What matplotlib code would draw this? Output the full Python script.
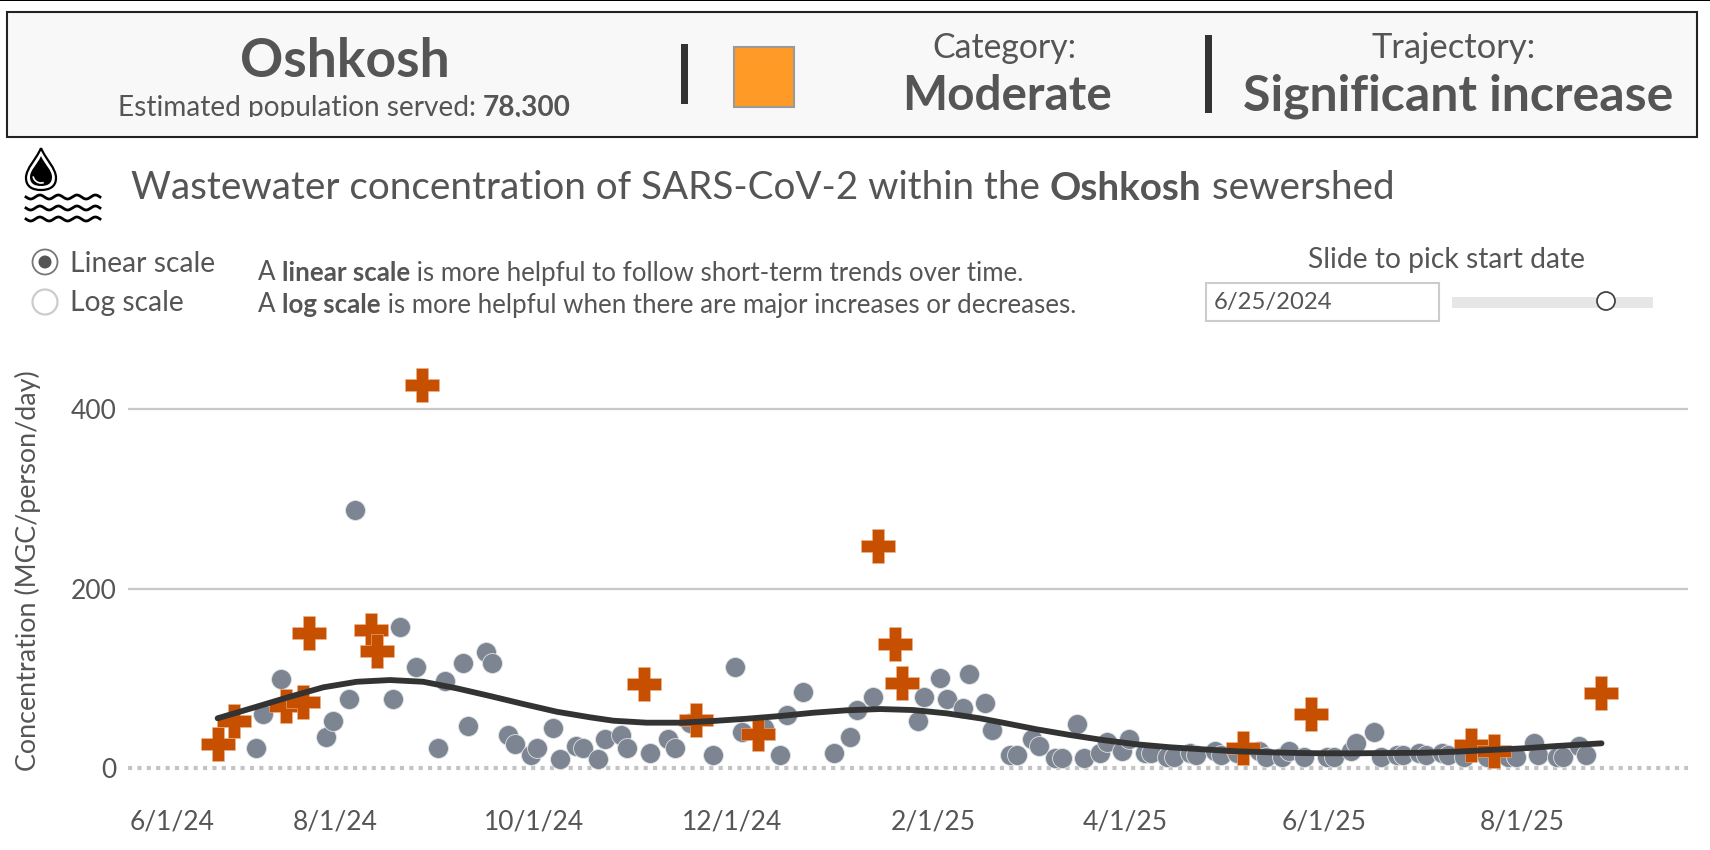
"""Oshkosh wastewater dashboard panel"""

import numpy as np
import pandas as pd
import matplotlib
matplotlib.use('Agg')
import matplotlib.pyplot as plt
from matplotlib.patches import Rectangle, Circle, PathPatch, Arc
from matplotlib.path import Path
from matplotlib.transforms import ScaledTranslation

plt.rcParams['font.family'] = ['Lato', 'DejaVu Sans']

START = pd.Timestamp('2024-06-01')

# days since 6/1/24 and MGC/person/day
dot_days = [36.7, 38.7, 44.2, 58.1, 60.2, 65.1, 67.1, 78.8, 80.9, 85.8, 92.7, 94.7, 100.3, 101.7,
            107.2, 109.3, 114.2, 116.2, 121.1, 123.1, 128, 130.1, 135, 137.1, 141.9, 143.9, 148.7,
            150.8, 157.8, 163.2, 165.4, 170.1, 177.1, 184, 186, 192.9, 197.8, 199.9, 204.7, 214.4,
            219.3, 221.4, 226.2, 240.1, 242.1, 247, 249.1, 253.9, 256, 260.8, 262.8, 268.5, 270.5,
            275.3, 277.4, 282.3, 284.4, 289.2, 291.2, 296.2, 298.2, 303, 305.2, 310, 312, 316.8,
            318.9, 323.8, 325.8, 331.5, 333.5, 338.2, 345.1, 347.2, 352, 354.3, 358.9, 366, 368,
            373.5, 374.9, 380.5, 382.5, 387.4, 389.4, 394.3, 396.4, 401.2, 403.3, 408.2, 415.1,
            421.7, 424.1, 429.7, 431, 436.6, 438.7, 443.5, 445.6]
dot_vals = [21.9, 59.8, 99.5, 34.5, 52, 77.2, 287.4, 77.2, 157.4, 112.2, 21.9, 96.9, 117.3, 46.8,
            129.6, 117.3, 36.8, 26.7, 14.5, 21.9, 44.2, 9.7, 24.5, 21.9, 9.7, 32, 36.8,
            21.9, 17, 32, 21.9, 50.1, 14.5, 112.2, 39.8, 44.2, 14.5, 59.4, 84.7, 17,
            34.5, 64.6, 79.4, 52, 79.4, 99.9, 77.2, 67.2, 104.7, 72.1, 42.3, 14.5, 14.5,
            32, 24.5, 11.5, 11.5, 49.4, 11.5, 17, 29.3, 19.3, 32, 17, 17, 11.9,
            11.9, 16.4, 14.5, 19.3, 14.5, 16.7, 19.3, 11.9, 11.9, 19.3, 11.9, 11.9, 11.9,
            19.3, 27.5, 39.8, 11.9, 14.5, 14.5, 17, 14.5, 17, 14.5, 11.9, 11.9,
            11.9, 11.9, 27.5, 14.5, 11.9, 11.9, 24.5, 14.5]

flagged_days = [24.8, 29.8, 45.8, 51, 52.9, 71.9, 73.9, 87.6, 156, 172, 191, 227.9, 233.1, 235.2,
                340.2, 361.2, 410.2, 417.2, 450.3]
flagged_vals = [26.7, 52.7, 69.1, 73.9, 150, 153.7, 130.3, 426.7, 93.6, 53.5, 37.5, 246.9, 138.1, 95,
                22.6, 60.2, 25.6, 19.3, 83.2]

trend_days = [24.8, 36.8, 47, 57.3, 67.6, 77.8, 88, 98.3, 108.6, 118.8, 129.1, 139.3, 146.5, 156.7,
              167, 177.2, 187.5, 197.7, 208, 218.2, 228.5, 238.7, 249, 259.2, 266.3, 276.7, 286.9,
              297, 307.4, 317.7, 327.8, 338.2, 348.4, 357.6, 364.7, 375, 385.3, 395.5, 405.8,
              416.1, 426.2, 436.6, 450.4]
trend_vals = [55.4, 68.3, 79.4, 89.9, 96.1, 98, 96.1, 88.8, 80.2, 71.3, 62.7, 56.5, 52.7, 50.5,
              50.5, 52.4, 54.9, 57.9, 61.6, 64.3, 65.7, 64.6, 60.9, 55.4, 50.5, 43.1, 36.8,
              31.2, 26.4, 23.1, 20.8, 18.6, 17.5, 16.7, 16.4, 16.4, 16.7, 17, 18.2,
              20.1, 21.9, 24.5, 27.5]

x_ticks = ['2024-06-01', '2024-08-01', '2024-10-01', '2024-12-01',
           '2025-02-01', '2025-04-01', '2025-06-01', '2025-08-01']
x_labels = ['6/1/24', '8/1/24', '10/1/24', '12/1/24', '2/1/25', '4/1/25', '6/1/25', '8/1/25']
y_ticks = [0, 200, 400]

GREY_TEXT = '#555555'
W, H = 1710, 850


def to_dates(days):
    return START + pd.to_timedelta(days, unit='D')


fig = plt.figure(figsize=(W / 100, H / 100), dpi=100, facecolor='white')

# chart: 0 sits at y=768 and 400 at y=409, x runs 3.25 px per day
ax = fig.add_axes([128 / W, 1 - 790 / H, 1560 / W, 430 / H])
ax.set_xlim(to_dates(-2.77), to_dates(477))
ax.set_ylim(-24.5, 454.6)
for s in ax.spines.values():
    s.set_visible(False)
ax.patch.set_alpha(0)

ax.set_yticks(y_ticks)
ax.tick_params(length=0, labelsize=19, labelcolor=GREY_TEXT)
ax.tick_params(axis='y', pad=8)
ax.tick_params(axis='x', pad=14)
ax.set_xticks(pd.to_datetime(x_ticks))
ax.set_xticklabels(x_labels)
first = ax.get_xticklabels()[0]
first.set_ha('left')
first.set_transform(first.get_transform() + ScaledTranslation(-7 / 100, 0, fig.dpi_scale_trans))

ax.axhline(200, color='#c8c8c8', lw=1.6, zorder=1)
ax.axhline(400, color='#c8c8c8', lw=1.6, zorder=1)
ax.axhline(0, color='#c4c4c4', lw=3, ls=(0, (1, 1.25)), zorder=1)

ax.scatter(to_dates(dot_days), dot_vals, s=205, color='#7c8591', edgecolor='#dfe2e5', linewidth=0.6, zorder=2)

plus = Path([(-1, -.35), (-.35, -.35), (-.35, -1), (.35, -1), (.35, -.35), (1, -.35), (1, .35),
             (.35, .35), (.35, 1), (-.35, 1), (-.35, .35), (-1, .35), (-1, -.35)], closed=True)
ax.scatter(to_dates(flagged_days), flagged_vals, s=620, marker=plus, color='#c75000',
           edgecolor='#eeb592', linewidth=0.4, zorder=3)

ax.plot(to_dates(trend_days), trend_vals, color='#333333', lw=4.2, solid_capstyle='round', zorder=4)

fig.text(28 / W, 1 - 571 / H, 'Concentration (MGC/person/day)', rotation=90, ha='center', va='center',
         fontsize=19.4, color=GREY_TEXT)

# dashboard furniture, in pixels from the top left
ui = fig.add_axes([0, 0, 1, 1])
ui.set_xlim(0, W)
ui.set_ylim(H, 0)
ui.axis('off')
ui.patch.set_alpha(0)

ui.add_patch(Rectangle((0, -1), W, 2, color='black', lw=0))
ui.add_patch(Rectangle((6.5, 12), 1690, 125, facecolor='#f8f8f8', edgecolor='#222222', lw=1.5))


def label(x, y, parts, size, ha='left', clip=None):
    """Writes regular/bold pieces in a row, starting at x or centred on it."""
    rend = fig.canvas.get_renderer()
    items = []
    total = 0
    for txt, bold in parts:
        t = ui.text(x, y, txt, fontsize=size, color=GREY_TEXT, va='center', ha='left',
                    fontweight='bold' if bold else 'normal')
        w = t.get_window_extent(rend).width
        items.append((t, w))
        total += w
    cur = x - total / 2 if ha == 'center' else x
    for t, w in items:
        t.set_x(cur)
        if clip is not None:
            t.set_clip_path(clip)
            t.set_clip_on(True)
        cur += w


label(345, 61, [('Oshkosh', True)], 38.5, ha='center')
pop_clip = Rectangle((0, 0), W, 117, transform=ui.transData)
label(118, 108, [('Estimated population served: ', False), ('78,300', True)], 20.2, clip=pop_clip)

ui.add_patch(Rectangle((681, 44), 7, 60, color='#333333', lw=0))
ui.add_patch(Rectangle((733.5, 46.5), 60, 60, facecolor='#ff9a26', edgecolor='#9a9a9a', lw=1.5))
label(1004, 48, [('Category:', False)], 24.3, ha='center')
label(1007, 96, [('Moderate', True)], 34.3, ha='center')
ui.add_patch(Rectangle((1205, 35), 7, 78, color='#333333', lw=0))
label(1454, 48, [('Trajectory:', False)], 24.8, ha='center')
label(1458, 96, [('Significant increase', True)], 36, ha='center')

# drop and waves icon
drop = Path([(41, 148), (36, 160), (26, 168), (26, 178), (26, 187), (33, 190), (41, 190),
             (49, 190), (56, 187), (56, 178), (56, 168), (46, 160), (41, 148)],
            [Path.MOVETO] + [Path.CURVE4] * 12)
ui.add_patch(PathPatch(drop, facecolor='white', edgecolor='black', lw=1.6))
inner = Path([(41, 156), (37, 165), (30, 170), (30, 177), (30, 184), (35, 186), (41, 186),
              (47, 186), (52, 184), (52, 177), (52, 170), (45, 165), (41, 156)],
             [Path.MOVETO] + [Path.CURVE4] * 12)
ui.add_patch(PathPatch(inner, facecolor='black', edgecolor='none'))
ui.add_patch(Arc((41, 175), 16, 16, theta1=70, theta2=170, color='white', lw=1.2))
wave_x = np.linspace(26, 100, 160)
for wave_y in (197, 208, 219):
    ui.plot(wave_x, wave_y + 2 * np.sin((wave_x - 26) / 74 * 2 * np.pi * 4), color='black', lw=2)

label(131, 188, [('Wastewater concentration of SARS-CoV-2 within the ', False), ('Oshkosh', True),
                 (' sewershed', False)], 27.8)

# scale radios and notes
ui.add_patch(Circle((45, 262), 12.5, facecolor='white', edgecolor='#777777', lw=1.3))
ui.add_patch(Circle((45, 262), 6.5, facecolor='#555555', edgecolor='none'))
ui.add_patch(Circle((45, 302), 12.5, facecolor='white', edgecolor='#cccccc', lw=1.6))
label(70, 264, [('Linear scale', False)], 20.3)
label(70, 303, [('Log scale', False)], 20.3)
label(258, 273, [('A ', False), ('linear scale', True), (' is more helpful to follow short-term trends over time.', False)], 18.6)
label(258, 305, [('A ', False), ('log scale', True), (' is more helpful when there are major increases or decreases.', False)], 18.6)

# date slider
label(1446, 260, [('Slide to pick start date', False)], 20.3, ha='center')
ui.add_patch(Rectangle((1205.5, 282.5), 233, 38, facecolor='white', edgecolor='#cccccc', lw=1.5))
label(1214, 303, [('6/25/2024', False)], 17.2)
ui.add_patch(Rectangle((1452, 297), 201, 11, color='#e6e6e6', lw=0))
ui.add_patch(Circle((1606, 301), 9, facecolor='white', edgecolor='#444444', lw=1.3))

fig.savefig('out.png', dpi=100)
